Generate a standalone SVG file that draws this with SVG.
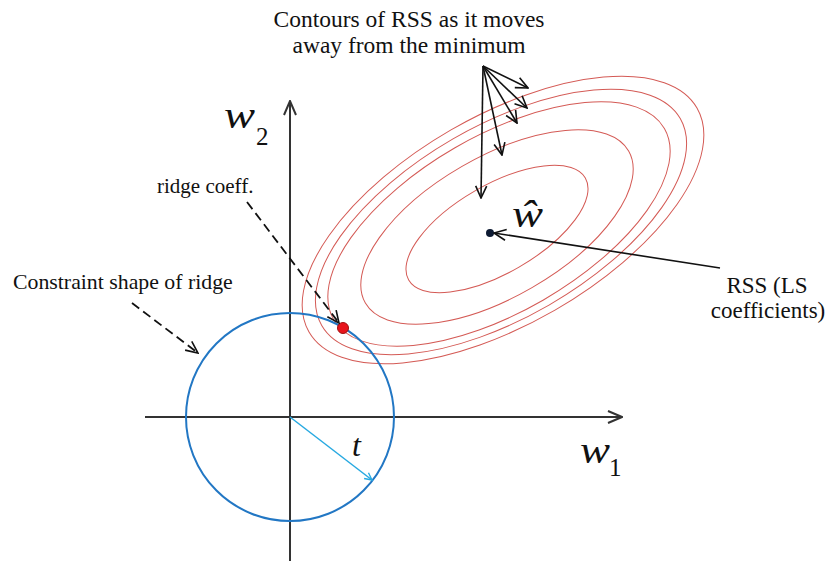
<svg xmlns="http://www.w3.org/2000/svg" width="830" height="561" viewBox="0 0 830 561">
<style>
.txt{font-family:'Liberation Serif','Tinos','DejaVu Serif','Noto Serif',serif;fill:#111;}
.math{font-family:'Liberation Serif','Tinos','DejaVu Serif','Noto Serif',serif;font-style:italic;fill:#111;}
.ell{fill:none;stroke:#d45a55;stroke-width:1;}
.axis{stroke:#333;stroke-width:2;fill:none;}
.arr{stroke:#111;stroke-width:1.6;fill:none;}
.dash{stroke:#111;stroke-width:1.8;fill:none;stroke-dasharray:9,5;}
</style>
<defs>
<marker id="open" viewBox="0 0 14 14" refX="13" refY="7" markerWidth="14" markerHeight="14" markerUnits="userSpaceOnUse" orient="auto">
<path d="M1,1.5 L13,7 L1,12.5" fill="none" stroke="#111" stroke-width="1.6"/>
</marker>
<marker id="axhead" viewBox="0 0 16 14" refX="15" refY="7" markerWidth="16" markerHeight="14" markerUnits="userSpaceOnUse" orient="auto">
<path d="M1,1 L15,7 L1,13" fill="none" stroke="#333" stroke-width="2"/>
</marker>
<marker id="cyan" viewBox="0 0 10 10" refX="9" refY="5" markerWidth="9" markerHeight="9" markerUnits="userSpaceOnUse" orient="auto">
<path d="M1,1 L9,5 L1,9" fill="none" stroke="#27a9e1" stroke-width="1.5"/>
</marker>
</defs>
<rect width="830" height="561" fill="#fff"/>

<g id="contours">
<ellipse class="ell" cx="503" cy="220" rx="224" ry="104" transform="rotate(-30 503 220)"/>
<ellipse class="ell" cx="501" cy="222" rx="207" ry="96" transform="rotate(-30 501 222)"/>
<ellipse class="ell" cx="499" cy="224" rx="191" ry="88" transform="rotate(-30 499 224)"/>
<ellipse class="ell" cx="497" cy="227" rx="152" ry="70" transform="rotate(-30 497 227)"/>
<ellipse class="ell" cx="497" cy="229" rx="102" ry="44" transform="rotate(-30 497 229)"/>
</g>

<g id="axes">
<line class="axis" x1="290" y1="561" x2="290" y2="101" marker-end="url(#axhead)"/>
<line class="axis" x1="145" y1="417" x2="622" y2="417" marker-end="url(#axhead)"/>
<text class="math" x="224" y="128" font-size="37" textLength="31" lengthAdjust="spacingAndGlyphs">w</text>
<text class="txt" x="256" y="145" font-size="25">2</text>
<text class="math" x="580" y="463" font-size="37" textLength="30" lengthAdjust="spacingAndGlyphs">w</text>
<text class="txt" x="609" y="476" font-size="25">1</text>
</g>

<g id="constraint">
<circle cx="290" cy="417" r="104" fill="none" stroke="#2277c4" stroke-width="2"/>
<line x1="290" y1="417" x2="372" y2="480" stroke="#27a9e1" stroke-width="1.5" marker-end="url(#cyan)"/>
<text class="math" x="352" y="456" font-size="32">t</text>
</g>

<g id="ridge-point">
<circle cx="343" cy="328" r="5.5" fill="#e8141c" stroke="#a01010" stroke-width="1"/>
</g>

<g id="ls-point">
<circle cx="490" cy="233" r="4" fill="#0d1a33"/>
<text class="math" x="512" y="227" font-size="37" textLength="31" lengthAdjust="spacingAndGlyphs">ŵ</text>
</g>

<g id="label-contours">
<text class="txt" x="409" y="27" font-size="23.5" text-anchor="middle">Contours of RSS as it moves</text>
<text class="txt" x="409" y="53" font-size="23.5" text-anchor="middle">away from the minimum</text>
</g>

<g id="label-ridge-coeff">
<text class="txt" x="157" y="193" font-size="21">ridge coeff.</text>
</g>

<g id="label-constraint">
<text class="txt" x="13" y="289" font-size="21.8">Constraint shape of ridge</text>
</g>

<g id="label-rss">
<text class="txt" x="767" y="293" font-size="23" text-anchor="middle">RSS (LS</text>
<text class="txt" x="768" y="318" font-size="23" text-anchor="middle">coefficients)</text>
</g>

<g id="connectors">
<line class="arr" x1="483" y1="66" x2="528" y2="88" marker-end="url(#open)"/>
<line class="arr" x1="483" y1="66" x2="527" y2="108" marker-end="url(#open)"/>
<line class="arr" x1="483" y1="66" x2="517" y2="123" marker-end="url(#open)"/>
<line class="arr" x1="483" y1="66" x2="502" y2="155" marker-end="url(#open)"/>
<line class="arr" x1="483" y1="66" x2="481" y2="198" marker-end="url(#open)"/>
<line class="arr" x1="720" y1="268" x2="494" y2="233" marker-end="url(#open)"/>
<line class="dash" x1="247" y1="202" x2="339" y2="323" marker-end="url(#open)"/>
<line class="dash" x1="132" y1="303" x2="198" y2="353" marker-end="url(#open)"/>
</g>
</svg>
